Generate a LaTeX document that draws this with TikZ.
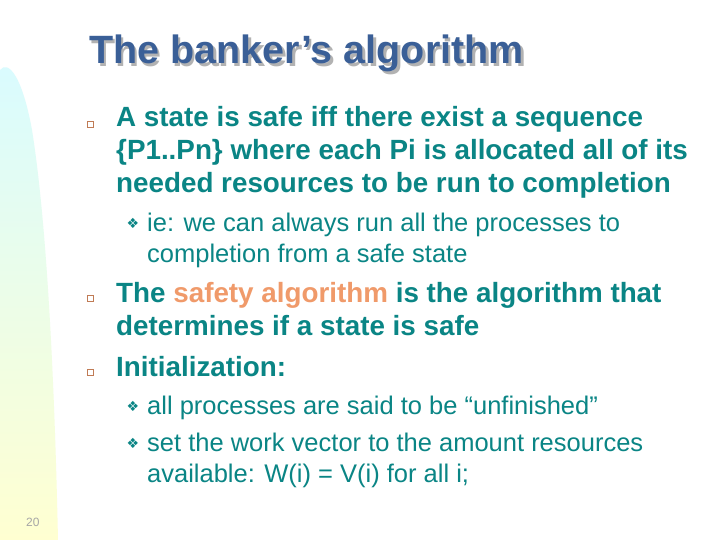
\documentclass[tikz,border=0pt]{standalone}
\usepackage{fontspec}
\setmainfont{Liberation Sans}
\newfontfamily\symf{DejaVu Sans}
\definecolor{tl}{HTML}{0A8585}
\definecolor{ttl}{HTML}{3A5F97}
\definecolor{org}{HTML}{F09A6A}
\begin{document}
\begin{tikzpicture}[x=1pt,y=-1pt,
 mainl/.style={anchor=base west,inner sep=0,font=\fontsize{27.8}{30}\selectfont\bfseries,text=tl},
 subl/.style={anchor=base west,inner sep=0,font=\fontsize{25.5}{28}\selectfont,text=tl},
 sqb/.style={draw=org!80!black,fill=white,line width=0.6pt,minimum size=6pt,inner sep=0},
 dmb/.style={inner sep=0,font=\symf\fontsize{14}{14}\selectfont,text=tl}]
\useasboundingbox (0,0) rectangle (720,540);
\fill[white] (0,0) rectangle (720,540);
\shade[top color=blue!10!cyan!15!white,bottom color=yellow!18!white]
 (0,70) .. controls (8,60) and (22,75) .. (32,130) .. controls (48,230) and (55,400) .. (58,540) -- (0,540) -- cycle;
\node[anchor=base west,inner sep=0,font=\fontsize{39.5}{42}\selectfont\bfseries,text=gray!60] (tsh) at (91.5,66.5) {The banker’s algorithm};
\node[anchor=base west,inner sep=0,font=\fontsize{39.5}{42}\selectfont\bfseries,text=ttl] (t) at (89,64) {The banker’s algorithm};
\node[sqb] (b1) at (90,124) {};
\node[mainl] (l1) at (116,127) {A state is safe iff there exist a sequence};
\node[mainl] (l2) at (116,160) {\{P1..Pn\} where each Pi is allocated all of its};
\node[mainl] (l3) at (116,193) {needed resources to be run to completion};
\node[dmb] (d1) at (133,223) {❖};
\node[subl] (s1) at (147,231) {ie: we can always run all the processes to};
\node[subl] (s2) at (147,262) {completion from a safe state};
\node[sqb] (b2) at (90,298) {};
\node[mainl] (l4) at (116,302) {The \textcolor{org}{safety algorithm} is the algorithm that};
\node[mainl] (l5) at (116,335) {determines if a state is safe};
\node[sqb] (b3) at (90,372) {};
\node[mainl] (l6) at (116,376) {Initialization:};
\node[dmb] (d2) at (133,406) {❖};
\node[subl] (s3) at (147,414) {all processes are said to be “unfinished”};
\node[dmb] (d3) at (133,443) {❖};
\node[subl] (s4) at (147,451) {set the work vector to the amount resources};
\node[subl] (s5) at (147,482) {available: W(i) = V(i) for all i;};
\node[anchor=base west,inner sep=0,font=\fontsize{12}{12}\selectfont,text=gray!70] (pg) at (26,526) {20};
\end{tikzpicture}
\end{document}
